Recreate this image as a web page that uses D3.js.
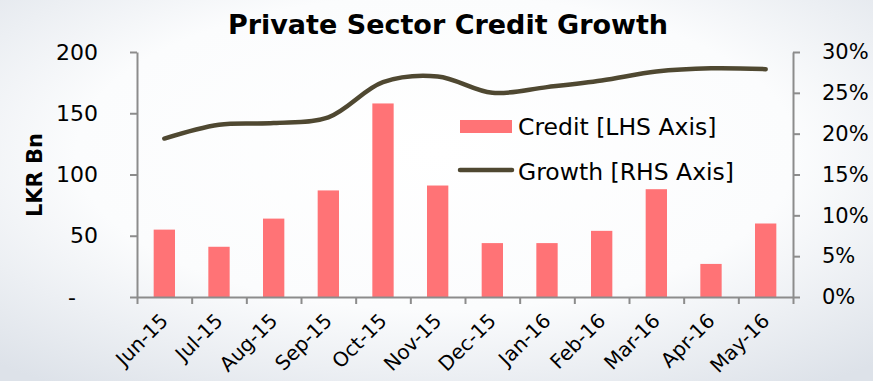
<!DOCTYPE html>
<html>
<head>
<meta charset="utf-8">
<script src="https://cdn.jsdelivr.net/npm/d3@7"></script>
<style>
  html, body { margin: 0; padding: 0; background: #ffffff; }
  svg { display: block; }
  text { font-family: "DejaVu Sans", Verdana, sans-serif; fill: #000; }
</style>
</head>
<body>
<svg id="chart" width="873" height="381"></svg>
<script>
// Monthly private sector credit (LKR Bn) and year-on-year growth
const months = ["Jun-15", "Jul-15", "Aug-15", "Sep-15", "Oct-15", "Nov-15",
                "Dec-15", "Jan-16", "Feb-16", "Mar-16", "Apr-16", "May-16"];
const credit = [55, 41, 64, 87, 158, 91, 44, 44, 54, 88, 27, 60];
const growth = [0.194, 0.211, 0.213, 0.220, 0.263, 0.270, 0.250, 0.257, 0.265, 0.276, 0.280, 0.279];
const leftTicks = [0, 50, 100, 150, 200];
const rightTicks = [0, 0.05, 0.10, 0.15, 0.20, 0.25, 0.30];
const legendItems = ["Credit [LHS Axis]", "Growth [RHS Axis]"];

const W = 873, H = 381;
const plot = { left: 137, right: 793, top: 52, bottom: 297 };
const barColor = "#ff7376";
const lineColor = "#4f4831";
const axisColor = "#8c8c8c";

const svg = d3.select("#chart");

// soft backdrop: white centre fading to a cool grey at the edges
const defs = svg.append("defs");
const bg = defs.append("radialGradient").attr("id", "bg")
  .attr("cx", "50%").attr("cy", "40%").attr("r", "75%");
bg.append("stop").attr("offset", "0%").attr("stop-color", "#ffffff");
bg.append("stop").attr("offset", "55%").attr("stop-color", "#fbfcfd");
bg.append("stop").attr("offset", "100%").attr("stop-color", "#dde2e9");
svg.append("rect").attr("width", W).attr("height", H).attr("fill", "url(#bg)");

const x = d3.scaleBand().domain(months).range([plot.left, plot.right])
  .paddingInner(0.61).paddingOuter(0.305);
const xEdge = d3.scaleLinear().domain([0, months.length]).range([plot.left, plot.right]);
const y = d3.scaleLinear().domain([0, 200]).range([plot.bottom, plot.top]);
const y2 = d3.scaleLinear().domain([0, 0.30]).range([plot.bottom, plot.top]);

// bars
svg.append("g").selectAll("rect").data(credit).join("rect")
  .attr("x", (d, i) => x(months[i]))
  .attr("width", x.bandwidth())
  .attr("y", d => y(d))
  .attr("height", d => y(0) - y(d))
  .attr("fill", barColor);

// growth line
const line = d3.line()
  .x((d, i) => x(months[i]) + x.bandwidth() / 2)
  .y(d => y2(d))
  .curve(d3.curveCatmullRom.alpha(0.5));
svg.append("path").datum(growth)
  .attr("d", line)
  .attr("fill", "none")
  .attr("stroke", lineColor)
  .attr("stroke-width", 4.5)
  .attr("stroke-linecap", "round");

function styleAxis(g) {
  g.select(".domain").attr("stroke", axisColor).attr("stroke-width", 2);
  g.selectAll(".tick line").attr("stroke", axisColor).attr("stroke-width", 2);
  g.selectAll("text").attr("fill", "#000");
}

// left axis
const gLeft = svg.append("g").attr("transform", `translate(${plot.left},0)`)
  .call(d3.axisLeft(y).tickValues(leftTicks).tickSize(7).tickSizeOuter(0)
    .tickPadding(32).tickFormat(d => d === 0 ? "-" : d));
gLeft.call(styleAxis);
gLeft.selectAll("text").style("font-size", "22px").attr("font-family", "DejaVu Sans");
gLeft.selectAll(".tick").filter(d => d === 0).select("text").attr("dx", "-22");

// right axis
const gRight = svg.append("g").attr("transform", `translate(${plot.right},0)`)
  .call(d3.axisRight(y2).tickValues(rightTicks).tickSize(7).tickSizeOuter(0)
    .tickPadding(22).tickFormat(d3.format(".0%")));
gRight.call(styleAxis);
gRight.selectAll("text").style("font-size", "21px").attr("font-family", "DejaVu Sans");

// bottom axis: ticks on category boundaries
const gBottom = svg.append("g").attr("transform", `translate(0,${plot.bottom})`)
  .call(d3.axisBottom(xEdge).tickValues(d3.range(months.length + 1)).tickSize(7)
    .tickSizeOuter(0).tickFormat(""));
gBottom.call(styleAxis);

// category labels, rotated
svg.append("g").selectAll("text").data(months).join("text")
  .attr("transform", d => `translate(${x(d) + x.bandwidth() / 2 + 5},${plot.bottom + 25}) rotate(-45)`)
  .attr("text-anchor", "end")
  .style("font-size", "20px")
  .text(d => d);

// axis title
svg.append("text")
  .attr("transform", `translate(42,175) rotate(-90)`)
  .attr("text-anchor", "middle")
  .style("font-size", "21px").style("font-weight", "bold")
  .text("LKR Bn");

// chart title
svg.append("text")
  .attr("x", 448).attr("y", 34)
  .attr("text-anchor", "middle")
  .style("font-size", "27px").style("font-weight", "bold")
  .text("Private Sector Credit Growth");

// legend
const lg = svg.append("g");
lg.append("rect").attr("x", 460).attr("y", 120).attr("width", 52).attr("height", 13).attr("fill", barColor);
lg.append("line").attr("x1", 460).attr("x2", 512).attr("y1", 170).attr("y2", 170)
  .attr("stroke", lineColor).attr("stroke-width", 4.5).attr("stroke-linecap", "round");
lg.selectAll("text").data(legendItems).join("text")
  .attr("x", 518).attr("y", (d, i) => 135 + i * 45)
  .style("font-size", "23.5px")
  .text(d => d);
</script>
</body>
</html>
